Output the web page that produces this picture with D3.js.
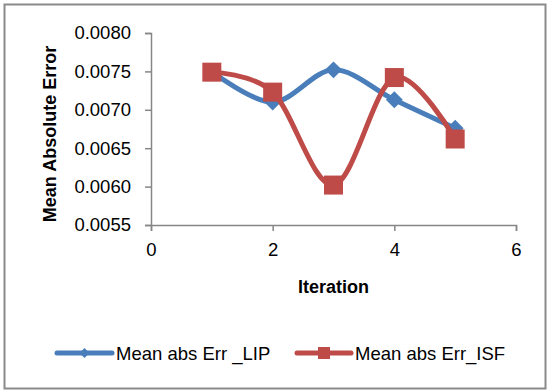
<!DOCTYPE html>
<html>
<head>
<meta charset="utf-8">
<script src="https://cdn.jsdelivr.net/npm/d3@7"></script>
<style>
  html, body { margin: 0; padding: 0; background: #fff; }
  svg { display: block; }
  text { font-family: "Liberation Sans", Arial, sans-serif; fill: #000; }
</style>
</head>
<body>
<svg id="chart" width="548" height="392"></svg>
<script>
// Iteration numbers and mean absolute error for each method
const iterations = [1, 2, 3, 4, 5];
const errLIP = [0.00750, 0.00710, 0.00752, 0.00713, 0.00676];
const errISF = [0.00749, 0.00723, 0.00602, 0.00742, 0.00662];
const seriesNames = ["Mean abs Err _LIP", "Mean abs Err_ISF"];
const xTicks = [0, 2, 4, 6];
const yTicks = [0.0055, 0.0060, 0.0065, 0.0070, 0.0075, 0.0080];

const blue = "#4A7EBB";
const red = "#BE4B48";
const axisGray = "#868686";

const svg = d3.select("#chart");

// outer chart frame
svg.append("rect")
  .attr("x", 4.5).attr("y", 4.5)
  .attr("width", 541).attr("height", 384)
  .attr("fill", "#fff")
  .attr("stroke", "#8a8a8a")
  .attr("stroke-width", 2);

const plot = { left: 151, right: 516, top: 33, bottom: 225 };

const x = d3.scaleLinear().domain([0, 6]).range([plot.left, plot.right]);
const y = d3.scaleLinear().domain([0.0055, 0.0080]).range([plot.bottom, plot.top]);

// y axis
const yAxis = svg.append("g")
  .attr("transform", `translate(${plot.left},0)`)
  .call(d3.axisLeft(y).tickValues(yTicks).tickFormat(d3.format(".4f")).tickSize(6).tickPadding(14));
yAxis.select(".domain").attr("stroke", axisGray).attr("stroke-width", 1.5);
yAxis.selectAll(".tick line").attr("stroke", axisGray).attr("stroke-width", 1.5);
yAxis.selectAll("text").style("font-size", "18.5px").attr("fill", "#000");

// x axis
const xAxis = svg.append("g")
  .attr("transform", `translate(0,${plot.bottom})`)
  .call(d3.axisBottom(x).tickValues(xTicks).tickFormat(d3.format("d")).tickSize(6).tickPadding(12));
xAxis.select(".domain").attr("stroke", axisGray).attr("stroke-width", 1.5);
xAxis.selectAll(".tick line").attr("stroke", axisGray).attr("stroke-width", 1.5);
xAxis.selectAll("text").style("font-size", "18.5px").attr("fill", "#000");

// axis titles
svg.append("text")
  .attr("x", (plot.left + plot.right) / 2).attr("y", 293)
  .attr("text-anchor", "middle")
  .style("font-size", "18px").style("font-weight", "bold")
  .text("Iteration");

svg.append("text")
  .attr("transform", `translate(56,${(plot.top + plot.bottom) / 2 + 5}) rotate(-90)`)
  .attr("text-anchor", "middle")
  .style("font-size", "18px").style("font-weight", "bold")
  .text("Mean Absolute Error");

// smoothed series lines
const line = d3.line()
  .x(d => x(d[0]))
  .y(d => y(d[1]))
  .curve(d3.curveCardinal.tension(0));

const lipData = iterations.map((it, i) => [it, errLIP[i]]);
const isfData = iterations.map((it, i) => [it, errISF[i]]);

// diamond marker: a square turned 45 degrees
const diamond = d3.symbol().type(d3.symbolSquare).size(144);

svg.append("path").datum(lipData)
  .attr("d", line).attr("fill", "none")
  .attr("stroke", blue).attr("stroke-width", 5).attr("stroke-linecap", "round");
svg.append("g").selectAll("path").data(lipData).join("path")
  .attr("d", diamond)
  .attr("transform", d => `translate(${x(d[0])},${y(d[1])}) rotate(45)`)
  .attr("fill", blue);

svg.append("path").datum(isfData)
  .attr("d", line).attr("fill", "none")
  .attr("stroke", red).attr("stroke-width", 5).attr("stroke-linecap", "round");
const sq = 19;
svg.append("g").selectAll("rect").data(isfData).join("rect")
  .attr("x", d => x(d[0]) - sq / 2).attr("y", d => y(d[1]) - sq / 2)
  .attr("width", sq).attr("height", sq)
  .attr("fill", red);

// legend
const legendY = 353;
const legend = [
  { name: seriesNames[0], color: blue, x0: 57, x1: 112, tx: 116, marker: "diamond" },
  { name: seriesNames[1], color: red, x0: 297, x1: 351, tx: 355, marker: "square" }
];
legend.forEach(l => {
  svg.append("line")
    .attr("x1", l.x0).attr("x2", l.x1).attr("y1", legendY).attr("y2", legendY)
    .attr("stroke", l.color).attr("stroke-width", 5).attr("stroke-linecap", "round");
  const cx = (l.x0 + l.x1) / 2;
  if (l.marker === "diamond") {
    svg.append("path").attr("d", d3.symbol().type(d3.symbolSquare).size(50)())
      .attr("transform", `translate(${cx},${legendY}) rotate(45)`).attr("fill", l.color);
  } else {
    svg.append("rect").attr("x", cx - 6).attr("y", legendY - 6)
      .attr("width", 12).attr("height", 12).attr("fill", l.color);
  }
  svg.append("text")
    .attr("x", l.tx).attr("y", legendY + 6.5)
    .style("font-size", "18.5px")
    .text(l.name);
});
</script>
</body>
</html>
